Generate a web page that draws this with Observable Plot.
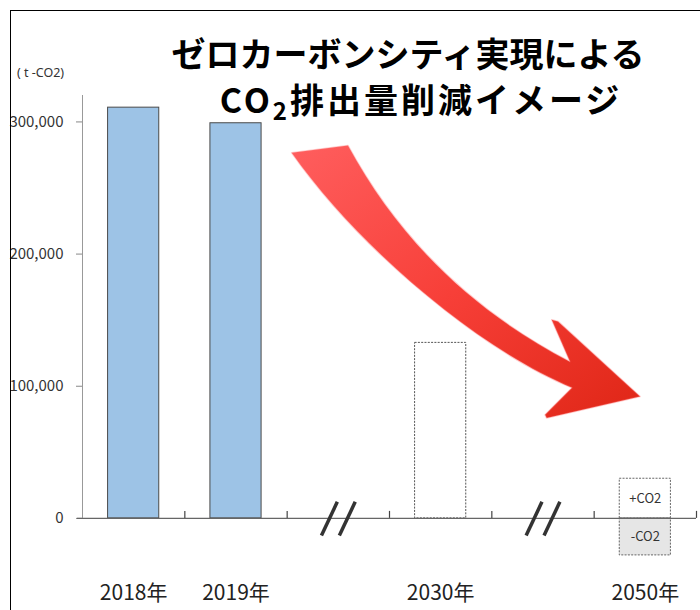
<!DOCTYPE html>
<html><head><meta charset="utf-8">
<script src="https://cdn.jsdelivr.net/npm/d3@7"></script>
<script src="https://cdn.jsdelivr.net/npm/@observablehq/plot@0.6"></script>
<style>
body{margin:0;background:#fff;}
#wrap{position:relative;width:700px;height:610px;overflow:hidden;font-family:"Noto Sans CJK JP","Noto Sans",sans-serif;}
#chart{position:absolute;left:0;top:0;}
#frame{position:absolute;left:10px;top:10px;width:720px;height:640px;border-left:1.5px solid #000;border-top:1.5px solid #000;}
.t{position:absolute;font-weight:700;font-size:34px;line-height:1;white-space:nowrap;transform:translateX(-50%);color:#000;}
.t sub{font-size:24px;vertical-align:-0.3em;line-height:0;}
#unit{position:absolute;left:17px;top:64px;font-size:12.5px;color:#333;font-family:"Noto Sans",sans-serif;}
</style></head>
<body>
<div id="wrap">
  <div id="chart"></div>
  <div id="frame"></div>
  <div id="unit">( t -CO2)</div>
  <div class="t" style="left:408px;top:36px">ゼロカーボンシティ実現による</div>
  <div class="t" style="left:421px;top:82px;letter-spacing:3px">CO<sub>2</sub>排出量削減イメージ</div>
</div>
<script>
// ---- data ----
const categories = ["2018年", "2019年", "", "2030年", "", "2050年"];
const actualYears = ["2018年", "2019年"];
const actualValues = [310800, 299000];
const targetYears = ["2030年"];
const targetValues = [132800];
const netZeroYear = "2050年";
const emitValue = 30000;
const absorbValue = -28000;
const emitLabel = "+CO2";
const absorbLabel = "-CO2";
const yTicks = [0, 100000, 200000, 300000];
const yMax = 320000;

// decorative arrow outline, in (slot index, t-CO2) units
// outer edge: cubic bezier [start, control1, control2, end]
const arrowOuter = [[2.599, 281800], [3.088, 212100], [3.792, 157600], [4.769, 118200]];
// arrow head polygon (after outer edge)
const arrowHead = [[4.590, 150000], [4.652, 148700], [5.454, 91900], [4.541, 75500], [4.525, 78000], [4.788, 98500]];
// inner edge: cubic bezier [start(=notch), control1, control2, end(tail)]
const arrowInner = [[4.788, 98500], [3.889, 127300], [2.717, 203000], [2.049, 276300]];

// ---- derived ----
const idx = c => categories.indexOf(c);
const actual = actualYears.map((c, i) => ({c, v: actualValues[i]}));
const target = targetYears.map((c, i) => ({c, v: targetValues[i]}));
const net = [{c: netZeroYear, lo: 0, hi: emitValue, fill: "#ffffff", label: emitLabel},
             {c: netZeroYear, lo: absorbValue, hi: 0, fill: "#e6e6e6", label: absorbLabel}];
const labelSlots = categories.map((c, i) => i).filter(i => categories[i] !== "");
const breakSlots = categories.map((c, i) => i).filter(i => categories[i] === "");
const slashes = breakSlots.flatMap(i => [
  {x1: i + 0.5 - 0.165, x2: i + 0.5 - 0.01},
  {x1: i + 0.5 + 0.01, x2: i + 0.5 + 0.165}
]);
const boundaries = d3.range(1, categories.length + 1);

function defsMark() {
  const ns = "http://www.w3.org/2000/svg";
  const defs = document.createElementNS(ns, "defs");
  defs.innerHTML = `<linearGradient id="arrowGrad" x1="0" y1="0" x2="1" y2="1">
    <stop offset="0" stop-color="#ff5e5e"/><stop offset="0.5" stop-color="#f73f38"/><stop offset="1" stop-color="#df2616"/></linearGradient>`;
  return defs;
}
function arrowMark(index, scales) {
  const {x, y} = scales;
  const P = ([a, b]) => [x(a), y(b)];
  const o = arrowOuter.map(P), h = arrowHead.map(P), n = arrowInner.map(P);
  const p = d3.path();
  p.moveTo(...o[0]);
  p.bezierCurveTo(...o[1], ...o[2], ...o[3]);
  h.forEach(q => p.lineTo(...q));
  p.bezierCurveTo(...n[1], ...n[2], ...n[3]);
  p.closePath();
  const ns = "http://www.w3.org/2000/svg";
  const path = document.createElementNS(ns, "path");
  path.setAttribute("d", p.toString());
  path.setAttribute("fill", "url(#arrowGrad)");
  path.setAttribute("stroke", "#ff7070");
  path.setAttribute("stroke-opacity", "0.35");
  path.setAttribute("stroke-width", "1.5");
  path.setAttribute("stroke-linejoin", "round");
  return path;
}

const chart = Plot.plot({
  width: 700,
  height: 610,
  marginLeft: 82,
  marginRight: 4,
  marginTop: 95,
  marginBottom: 30,
  style: {fontFamily: '"Noto Sans CJK JP","Noto Sans",sans-serif', background: "transparent", overflow: "visible"},
  x: {domain: [0, categories.length], axis: null},
  y: {domain: [-47000, yMax], axis: null},
  marks: [
    defsMark,
    Plot.ruleX([0], {y1: 0, y2: yMax, stroke: "#999"}),
    Plot.axisY({ticks: yTicks, tickSize: 6, tickPadding: 13, tickFormat: d3.format(","), fontSize: 15, stroke: "#888", fill: "#333"}),
    Plot.rectY(actual, {x1: d => idx(d.c) + 0.25, x2: d => idx(d.c) + 0.75, y: "v", fill: "#9dc3e6", stroke: "#4a4a4a", strokeWidth: 1}),
    Plot.rectY(target, {x1: d => idx(d.c) + 0.25, x2: d => idx(d.c) + 0.75, y: "v", fill: "#ffffff", stroke: "#555", strokeDasharray: "2,1.3", strokeWidth: 1}),
    Plot.rectY(net, {x1: d => idx(d.c) + 0.25, x2: d => idx(d.c) + 0.75, y1: "lo", y2: "hi", fill: "fill", stroke: "#666", strokeDasharray: "2,1.3", strokeWidth: 1}),
    Plot.text(net, {x: d => idx(d.c) + 0.5, y: d => (d.lo + d.hi) / 2, text: "label", fontSize: 13, fill: "#333"}),
    Plot.ruleY([0], {x1: -0.05, x2: categories.length, stroke: "#666", strokeWidth: 1.2}),
    Plot.ruleX(boundaries, {y1: 0, y2: 5300, stroke: "#444", strokeWidth: 1.2}),
    Plot.link(slashes, {x1: "x1", x2: "x2", y1: -13000, y2: 12500, stroke: "#333", strokeWidth: 3.5}),
    Plot.axisX({ticks: labelSlots.map(i => i + 0.5), tickFormat: v => categories[Math.round(v - 0.5)], tickSize: 0, tickPadding: 5, fontSize: 21, fill: "#222", anchor: "bottom"}),
    arrowMark
  ]
});
document.getElementById("chart").appendChild(chart);
</script>
</body></html>
